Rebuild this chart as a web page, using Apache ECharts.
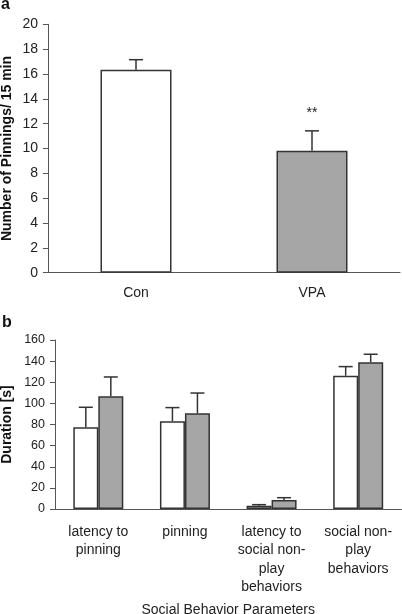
<!DOCTYPE html>
<html>
<head>
<meta charset="utf-8">
<script src="https://cdn.jsdelivr.net/npm/echarts@6/dist/echarts.min.js"></script>
<style>html,body{margin:0;padding:0;background:#fff}#c{width:402px;height:614px}</style>
</head>
<body>
<div id="c"></div>
<script>
// Panel a
const groupsA = ['Con', 'VPA'];
const pinningsMean = [16.35, 9.82];
const pinningsErr = [0.8, 1.6];
const significanceA = ['', '**'];
const ticksA = [0, 2, 4, 6, 8, 10, 12, 14, 16, 18, 20];

// Panel b
const behaviors = ['latency to\npinning', 'pinning', 'latency to\nsocial non-\nplay\nbehaviors', 'social non-\nplay\nbehaviors'];
const conDuration = [77.4, 83, 3.1, 126.2];
const conErr = [18.9, 13, 1.0, 8.6];
const vpaDuration = [106.7, 90.6, 8.5, 138.9];
const vpaErr = [18.3, 19.2, 2.2, 7.6];
const ticksB = [0, 20, 40, 60, 80, 100, 120, 140, 160];

const FONT = '"Liberation Sans", Arial, sans-serif';
const TXT = '#222';
const AX = '#555';

function errRender(offset, means, errs, marks) {
  return function (params, api) {
    const i = api.value(0);
    const m = means[i], e = errs[i];
    const p0 = api.coord([i, m]);
    const p1 = api.coord([i, m + e]);
    const x = p0[0] + offset;
    const cap = 7;
    const children = [
      {type: 'line', shape: {x1: x, y1: p0[1], x2: x, y2: p1[1]}, style: {stroke: '#333', lineWidth: 1.5}},
      {type: 'line', shape: {x1: x - cap, y1: p1[1], x2: x + cap, y2: p1[1]}, style: {stroke: '#333', lineWidth: 1.5}}
    ];
    if (marks && marks[i]) {
      children.push({type: 'text', style: {text: marks[i], x: x, y: p1[1] - 18, textAlign: 'center', textVerticalAlign: 'middle', font: '14px ' + FONT, fill: TXT}});
    }
    return {type: 'group', children: children};
  };
}

const chart = echarts.init(document.getElementById('c'), null, {renderer: 'canvas'});
chart.setOption({
  animation: false,
  backgroundColor: '#fff',
  textStyle: {fontFamily: FONT},
  graphic: [
    {type: 'text', left: 1, top: -3, style: {text: 'a', font: 'bold 16px ' + FONT, fill: '#111'}},
    {type: 'text', left: 2, top: 315, style: {text: 'b', font: 'bold 16px ' + FONT, fill: '#111'}}
  ],
  grid: [
    {left: 48, right: 2, top: 24.3, height: 248.4, outerBoundsMode: 'none', containLabel: false},
    {left: 55, right: 0.5, top: 340, height: 169, outerBoundsMode: 'none', containLabel: false}
  ],
  xAxis: [
    {type: 'category', gridIndex: 0, data: groupsA,
     axisLine: {lineStyle: {color: AX, width: 1}}, axisTick: {length: 5, lineStyle: {color: AX}},
     axisLabel: {color: TXT, fontSize: 14, margin: 13, fontFamily: FONT}},
    {type: 'category', gridIndex: 1, data: behaviors,
     axisLine: {lineStyle: {color: AX, width: 1}}, axisTick: {length: 5, lineStyle: {color: AX}},
     axisLabel: {color: TXT, fontSize: 14, margin: 14, lineHeight: 18.3, fontFamily: FONT, interval: 0},
     name: 'Social Behavior Parameters', nameLocation: 'middle', nameGap: 94, nameMoveOverlap: false,
     nameTextStyle: {color: TXT, fontSize: 14, fontFamily: FONT}}
  ],
  yAxis: [
    {type: 'value', gridIndex: 0, min: ticksA[0], max: ticksA[ticksA.length - 1], interval: ticksA[1] - ticksA[0],
     splitLine: {show: false},
     axisLine: {show: true, lineStyle: {color: AX, width: 1}}, axisTick: {show: true, length: 5, lineStyle: {color: AX}},
     axisLabel: {color: TXT, fontSize: 14, margin: 10, fontFamily: FONT},
     name: 'Number of Pinnings/ 15 min', nameLocation: 'middle', nameGap: 34, nameMoveOverlap: false,
     nameTextStyle: {color: '#111', fontSize: 14, fontWeight: 'bold', fontFamily: FONT}},
    {type: 'value', gridIndex: 1, min: ticksB[0], max: ticksB[ticksB.length - 1], interval: ticksB[1] - ticksB[0],
     splitLine: {show: false},
     axisLine: {show: true, lineStyle: {color: AX, width: 1}}, axisTick: {show: true, length: 5, lineStyle: {color: AX}},
     axisLabel: {color: TXT, fontSize: 12.5, margin: 10, fontFamily: FONT},
     name: 'Duration [s]', nameLocation: 'middle', nameGap: 41, nameMoveOverlap: false,
     nameTextStyle: {color: '#111', fontSize: 14, fontWeight: 'bold', fontFamily: FONT}}
  ],
  series: [
    {type: 'custom', xAxisIndex: 0, yAxisIndex: 0, data: groupsA.map((g, i) => [i]),
     renderItem: errRender(0, pinningsMean, pinningsErr, significanceA), z: 1},
    {type: 'bar', xAxisIndex: 0, yAxisIndex: 0, barWidth: 71, z: 2,
     data: pinningsMean.map((v, i) => ({value: v, itemStyle: {color: i === 0 ? '#fff' : '#a6a6a6'}})),
     itemStyle: {borderColor: '#333', borderWidth: 1.5}},
    {type: 'custom', xAxisIndex: 1, yAxisIndex: 1, data: behaviors.map((g, i) => [i]),
     renderItem: errRender(-12.5, conDuration, conErr), z: 1},
    {type: 'custom', xAxisIndex: 1, yAxisIndex: 1, data: behaviors.map((g, i) => [i]),
     renderItem: errRender(12.5, vpaDuration, vpaErr), z: 1},
    {type: 'bar', name: 'Con', xAxisIndex: 1, yAxisIndex: 1, barWidth: 25, barGap: '0%', z: 2,
     data: conDuration, itemStyle: {color: '#fff', borderColor: '#333', borderWidth: 1.5}},
    {type: 'bar', name: 'VPA', xAxisIndex: 1, yAxisIndex: 1, barWidth: 25, barGap: '0%', z: 2,
     data: vpaDuration, itemStyle: {color: '#a6a6a6', borderColor: '#333', borderWidth: 1.5}}
  ]
});
</script>
</body>
</html>
